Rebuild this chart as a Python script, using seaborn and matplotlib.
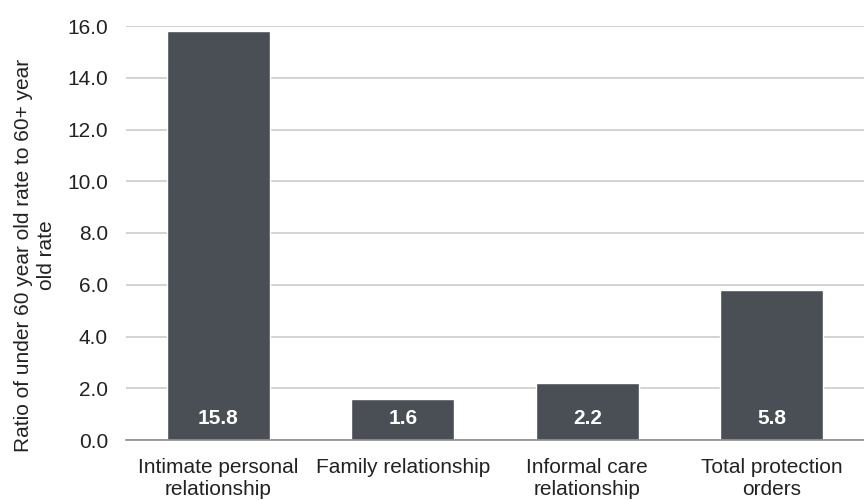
import matplotlib
matplotlib.use("Agg")
import matplotlib.pyplot as plt
import seaborn as sns
import pandas as pd

categories = ["Intimate personal\nrelationship", "Family relationship",
              "Informal care\nrelationship", "Total protection\norders"]
ratios = [15.8, 1.6, 2.2, 5.8]
yticks = [0, 2, 4, 6, 8, 10, 12, 14, 16]
ylabel = "Ratio of under 60 year old rate to 60+ year\nold rate"

sns.set_theme(style="white")
plt.rcParams["font.family"] = ["Liberation Sans", "DejaVu Sans"]

df = pd.DataFrame({"category": categories, "ratio": ratios})

fig = plt.figure(figsize=(8.64, 5.0), dpi=100)
ax = fig.add_axes([126 / 864, 60 / 500, 738 / 864, 414 / 500])

bar_color = "#4a4e55"
sns.barplot(data=df, x="category", y="ratio", color=bar_color, width=0.56,
            saturation=1, ax=ax, zorder=3)

ax.set_ylim(0, 16)
ax.set_xlim(-0.5, 3.5)
ax.set_yticks(yticks)
ax.set_yticklabels([f"{v:.1f}" for v in yticks], fontsize=15, color="#222222")
ax.tick_params(axis="x", labelsize=15, colors="#222222", length=0, pad=13)
ax.tick_params(axis="y", length=0, pad=13)
for lbl in ax.get_xticklabels():
    lbl.set_linespacing(1.2)
ax.yaxis.grid(True, color="#cccccc", linewidth=1.2, zorder=0)
ax.set_axisbelow(True)

for s in ["top", "right", "left"]:
    ax.spines[s].set_visible(False)
ax.spines["bottom"].set_color("#8c8c8c")
ax.spines["bottom"].set_linewidth(1.2)
ax.spines["bottom"].set_zorder(4)

ax.set_xlabel("")
ax.set_ylabel(ylabel, fontsize=15, color="#222222", linespacing=1.25)
ax.yaxis.set_label_coords(-0.095, 0.447)

for i, v in enumerate(ratios):
    ax.text(i, 0.82, f"{v:.1f}", ha="center", va="center", color="white",
            fontsize=15, fontweight="bold", zorder=5)

fig.savefig("out.png", dpi=100)
